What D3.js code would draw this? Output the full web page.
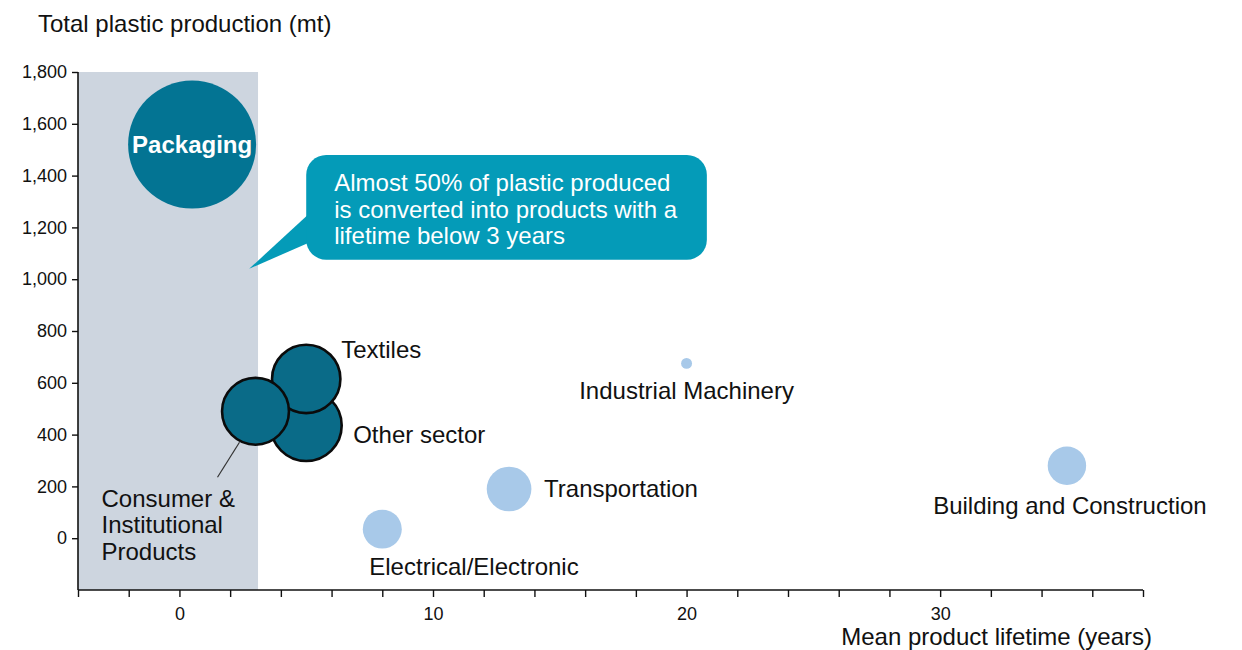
<!DOCTYPE html>
<html>
<head>
<meta charset="utf-8">
<script src="https://cdn.jsdelivr.net/npm/d3@7"></script>
<style>
  body { margin: 0; background: #fff; }
  text { font-family: "Liberation Sans", Arial, sans-serif; fill: #111; }
</style>
</head>
<body>
<div id="chart"></div>
<script>
// 1: DATA
const sectors = ["Other sector", "Textiles", "Consumer & Institutional Products", "Packaging",
                 "Industrial Machinery", "Transportation", "Electrical/Electronic", "Building and Construction"];
const lifetime = [5, 5, 3, 0.5, 20, 13, 8, 35];          // mean product lifetime (years)
const production = [435, 615, 490, 1520, 675, 190, 35, 280]; // total plastic production (mt)
const bubbleSize = [1260, 1170, 1120, 4100, 30, 500, 380, 370];
const shortLived = [true, true, true, true, false, false, false, false];

const yTicks = [0, 200, 400, 600, 800, 1000, 1200, 1400, 1600, 1800];
const xTicks = d3.range(-4, 39, 2);
const xLabels = [0, 10, 20, 30];
const shadeUntil = 3.1; // years
const calloutLines = ["Almost 50% of plastic produced", "is converted into products with a", "lifetime below 3 years"];

const data = sectors.map((s, i) => ({
    name: s, x: lifetime[i], y: production[i], size: bubbleSize[i], dark: shortLived[i]
}));

// label placement (px offsets from bubble centre)
const labelPos = {
    "Other sector": { dx: 47, dy: 9, anchor: "start" },
    "Textiles": { dx: 35, dy: -29, anchor: "start" },
    "Consumer & Institutional Products": { dx: -154, dy: 87, anchor: "start", lines: ["Consumer &", "Institutional", "Products"] },
    "Industrial Machinery": { dx: 0, dy: 27, anchor: "middle" },
    "Transportation": { dx: 35, dy: 0, anchor: "start" },
    "Electrical/Electronic": { dx: -13, dy: 37, anchor: "start" },
    "Building and Construction": { dx: 3, dy: 40, anchor: "middle" }
};

// 2: SVG
const margin = { top: 72, right: 99, bottom: 60, left: 78 };
const W = 1242, H = 650;
const width = W - margin.left - margin.right;
const height = H - margin.top - margin.bottom;
const fontSize = 24;

const svg = d3.select("#chart").append("svg")
    .attr("width", W).attr("height", H)
    .append("g")
    .attr("transform", `translate(${margin.left},${margin.top})`);

// 3: SCALES
const x = d3.scaleLinear().domain([-4, 38]).range([0, width]);
const y = d3.scaleLinear().domain([-200, 1800]).range([height, 0]);
const r = d3.scaleSqrt().domain([0, 4100]).range([0, 64]);

// 4: SHADED AREA
svg.append("rect")
    .attr("x", x(-4)).attr("y", y(1800))
    .attr("width", x(shadeUntil) - x(-4))
    .attr("height", y(-200) - y(1800))
    .attr("fill", "#cdd5df");

// 5: AXES
const yAxis = svg.append("g")
    .call(d3.axisLeft(y).tickValues(yTicks).tickSize(6).tickPadding(5).tickFormat(d3.format(",")));
const xAxis = svg.append("g")
    .attr("transform", `translate(0,${height})`)
    .call(d3.axisBottom(x).tickValues(xTicks).tickSize(7).tickPadding(10)
        .tickFormat(d => xLabels.includes(d) ? d : ""));
[xAxis, yAxis].forEach(a => {
    a.select(".domain").attr("stroke", "#111").attr("stroke-width", 1.6);
    a.selectAll(".tick line").attr("stroke", "#111").attr("stroke-width", 1.4);
    a.selectAll(".tick text").style("font-size", "18px").style("font-family", "Liberation Sans, Arial, sans-serif").attr("fill", "#111");
});
yAxis.select(".domain").attr("d", `M0,${y(1800)}V${height}`);
xAxis.select(".domain").attr("d", `M0,0H${width}`);

// axis titles
svg.append("text")
    .attr("x", -40).attr("y", -46)
    .attr("dominant-baseline", "middle")
    .style("font-size", fontSize + "px")
    .text("Total plastic production (mt)");
svg.append("text")
    .attr("x", width + 9).attr("y", H - margin.top - 11)
    .attr("text-anchor", "end")
    .attr("dominant-baseline", "middle")
    .style("font-size", fontSize + "px")
    .text("Mean product lifetime (years)");

// 6: CALLOUT
const box = { x0: 5, x1: 20.8, y0: 1075, y1: 1480 };
const tip = { x: 2.75, y: 1040 };
const bx0 = x(box.x0), bx1 = x(box.x1), by0 = y(box.y1), by1 = y(box.y0);
svg.append("path")
    .attr("d", `M${bx0 + 2},${y(1250)}L${x(tip.x)},${y(tip.y)}L${bx0 + 2},${y(1140)}Z`)
    .attr("fill", "#049bb8");
svg.append("rect")
    .attr("x", bx0).attr("y", by0)
    .attr("width", bx1 - bx0).attr("height", by1 - by0)
    .attr("rx", 20).attr("ry", 20)
    .attr("fill", "#049bb8");
svg.append("text")
    .attr("x", bx0 + 28).attr("y", by0 + 28)
    .style("font-size", fontSize + "px")
    .style("fill", "#fff")
    .selectAll("tspan").data(calloutLines).join("tspan")
    .attr("x", bx0 + 28)
    .attr("dy", (d, i) => i === 0 ? "0.35em" : "1.1em")
    .text(d => d);

// 7: BUBBLES
svg.selectAll("circle.bubble")
    .data(data)
    .join("circle")
    .attr("class", "bubble")
    .attr("cx", d => x(d.x))
    .attr("cy", d => y(d.y))
    .attr("r", d => r(d.size))
    .attr("fill", d => d.name === "Packaging" ? "#037493" : (d.dark ? "#0a6b88" : "#a8c9e9"))
    .attr("stroke", d => d.dark && d.name !== "Packaging" ? "#0b0b0b" : "none")
    .attr("stroke-width", 2.6);

// packaging label inside
const pack = data.find(d => d.name === "Packaging");
svg.append("text")
    .attr("x", x(pack.x)).attr("y", y(pack.y))
    .attr("text-anchor", "middle").attr("dy", "0.35em")
    .style("font-size", "24px").style("font-weight", "bold").style("fill", "#fff")
    .text("Packaging");

// 8: LABELS
data.filter(d => labelPos[d.name]).forEach(d => {
    const p = labelPos[d.name];
    const cx = x(d.x), cy = y(d.y);
    const lines = p.lines || [d.name];
    const t = svg.append("text")
        .attr("text-anchor", p.anchor)
        .style("font-size", fontSize + "px");
    lines.forEach((l, i) => {
        t.append("tspan")
            .attr("x", cx + p.dx)
            .attr("y", cy + p.dy + i * 26.5)
            .attr("dy", "0.35em")
            .text(l);
    });
});

// leader line for consumer products
const cons = data.find(d => d.name.startsWith("Consumer"));
svg.append("line")
    .attr("x1", x(cons.x) - 16).attr("y1", y(cons.y) + 31)
    .attr("x2", x(cons.x) - 38).attr("y2", y(cons.y) + 66)
    .attr("stroke", "#333").attr("stroke-width", 1.2);
</script>
</body>
</html>
